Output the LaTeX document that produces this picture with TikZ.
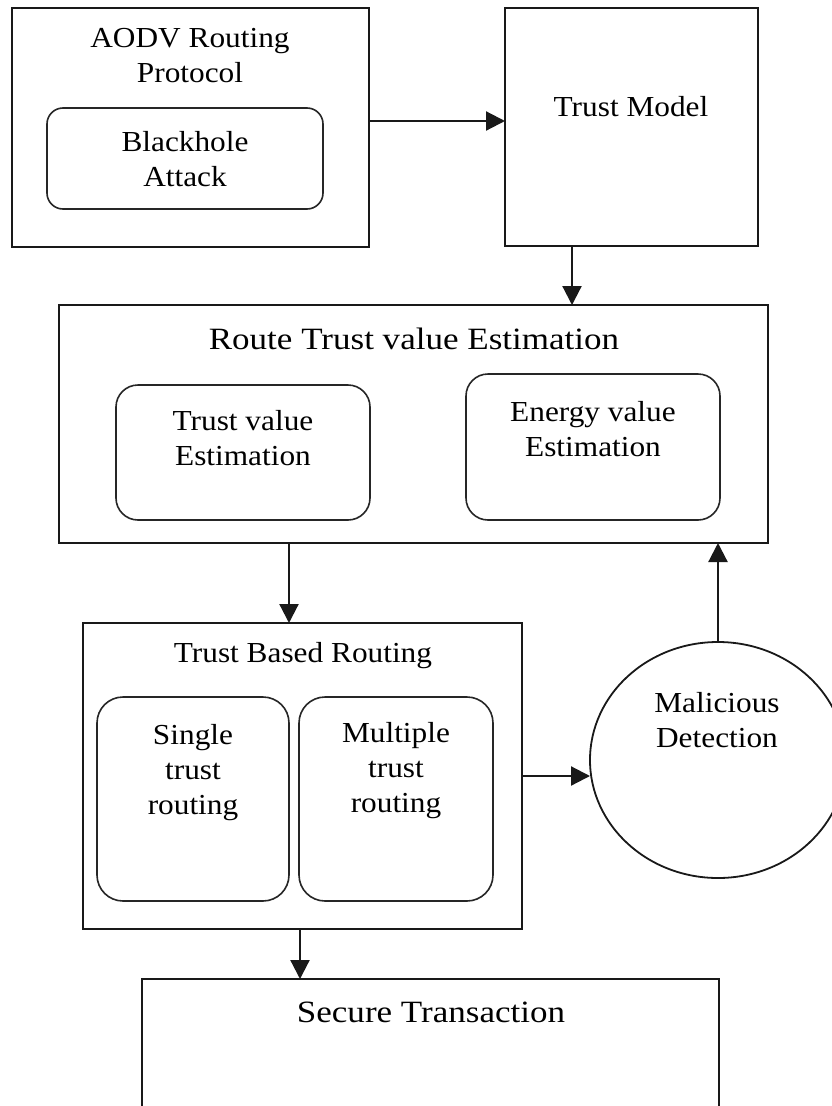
\documentclass[tikz,border=0pt]{standalone}
\usepackage{fontspec}
\setmainfont{Liberation Serif}[FakeStretch=1.08]
\newfontfamily\titlefont{Liberation Serif}[FakeStretch=1.13]
\usetikzlibrary{shapes.geometric,arrows.meta}

\begin{document}
\begin{tikzpicture}[x=1pt,y=-1pt,
  outerbox/.style={draw=black!90,line width=2.2pt,inner sep=0pt,outer sep=0pt},
  innerbox/.style={draw=black!85,line width=1.6pt,rounded corners=18pt,inner sep=0pt,outer sep=0pt},
  lbl/.style={anchor=north,inner sep=0pt,align=center,font=\fontsize{29}{35}\selectfont},
  ttl/.style={anchor=north,inner sep=0pt,align=center,font=\titlefont\fontsize{31}{37}\selectfont},
  arr/.style={line width=2.2pt,draw=black!90,-{Triangle[length=19pt,width=19pt]}}]

\path[use as bounding box] (0,0) rectangle (832,1106);
\fill[white] (0,0) rectangle (832,1106);

\begin{scope}
\clip (0,0) rectangle (832,1106);

% AODV block with the attack inside
\node[outerbox,minimum width=357pt,minimum height=239pt] (aodv) at (190.5,127.5) {};
\node[lbl] (aodvtxt) at (190,28) {AODV Routing\\Protocol};
\node[innerbox,rounded corners=16pt,minimum width=276pt,minimum height=101pt] (bh) at (185,158.5) {};
\node[lbl] (bhtxt) at (185,131) {Blackhole\\Attack};

% Trust model
\node[outerbox,minimum width=253pt,minimum height=238pt] (tm) at (631.5,127) {};
\node[lbl] (tmtxt) at (631,96) {Trust Model};

% Route trust value estimation
\node[outerbox,minimum width=709pt,minimum height=238pt] (route) at (413.5,424) {};
\node[ttl] (routetxt) at (414,328) {Route Trust value Estimation};
\node[innerbox,rounded corners=22pt,minimum width=254pt,minimum height=135pt] (tve) at (243,452.5) {};
\node[lbl] (tvetxt) at (243,410) {Trust value\\Estimation};
\node[innerbox,rounded corners=22pt,minimum width=254pt,minimum height=146pt] (eve) at (593,447) {};
\node[lbl] (evetxt) at (593,401) {Energy value\\Estimation};

% Trust based routing
\node[outerbox,minimum width=439pt,minimum height=306pt] (tbr) at (302.5,776) {};
\node[lbl] (tbrtxt) at (303,642) {Trust Based Routing};
\node[innerbox,rounded corners=26pt,minimum width=192pt,minimum height=204pt] (str) at (193,799) {};
\node[lbl] (strtxt) at (193,724) {Single\\trust\\routing};
\node[innerbox,rounded corners=26pt,minimum width=194pt,minimum height=204pt] (mtr) at (396,799) {};
\node[lbl] (mtrtxt) at (396,722) {Multiple\\trust\\routing};

% Malicious detection
\node[ellipse,draw=black!90,line width=1.8pt,inner sep=0pt,outer sep=0pt,
      minimum width=256pt,minimum height=236pt] (mal) at (718,760) {};
\node[lbl] (maltxt) at (717,692) {Malicious\\Detection};

% Secure transaction
\node[outerbox,minimum width=577pt,minimum height=181pt] (sec) at (430.5,1069.5) {};
\node[ttl] (sectxt) at (431,1002) {Secure Transaction};

% Connectors
\draw[arr] ([yshift=6.5pt]aodv.east) -- ([yshift=6.5pt]aodv.east -| tm.west);
\draw[arr] ([xshift=-59.5pt]tm.south) -- ([xshift=-59.5pt]tm.south |- route.north);
\draw[arr] ([xshift=-124.5pt]route.south) -- ([xshift=-124.5pt]route.south |- tbr.north);
\draw[arr] (tbr.east) -- (tbr.east -| mal.west);
\draw[arr] (mal.north) -- (mal.north |- route.south);
\draw[arr] ([xshift=-2.5pt]tbr.south) -- ([xshift=-2.5pt]tbr.south |- sec.north);
\end{scope}
\end{tikzpicture}
\end{document}
